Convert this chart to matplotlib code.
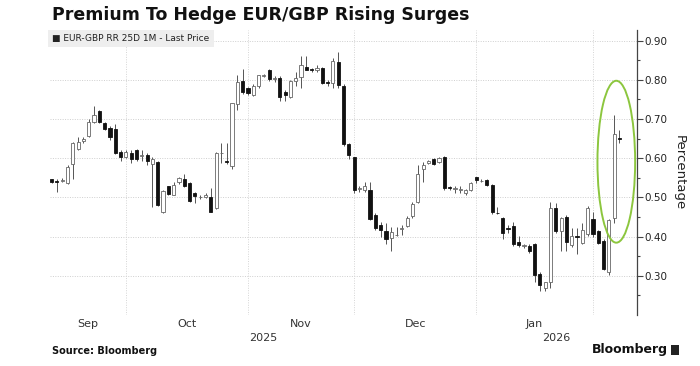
import matplotlib
matplotlib.use("Agg")
import matplotlib.pyplot as plt
import matplotlib.transforms as mtransforms
from matplotlib.patches import Ellipse, Rectangle
import numpy as np
import pandas as pd

# daily candles, EUR-GBP RR 25D 1M
start_date = "2025-09-11"
opens = [0.546, 0.541, 0.541, 0.537, 0.585, 0.623, 0.643, 0.657, 0.693, 0.721,
         0.691, 0.676, 0.674, 0.617, 0.603, 0.614, 0.621, 0.606, 0.607, 0.585,
         0.591, 0.462, 0.528, 0.507, 0.539, 0.547, 0.536, 0.511, 0.500, 0.502,
         0.500, 0.472, 0.612, 0.594, 0.579, 0.738, 0.797, 0.780, 0.762, 0.783,
         0.810, 0.825, 0.803, 0.804, 0.770, 0.757, 0.796, 0.808, 0.832, 0.828,
         0.826, 0.829, 0.795, 0.791, 0.846, 0.783, 0.636, 0.602, 0.521, 0.518,
         0.519, 0.455, 0.430, 0.414, 0.396, 0.403, 0.420, 0.428, 0.452, 0.488,
         0.572, 0.589, 0.597, 0.590, 0.604, 0.526, 0.521, 0.520, 0.510, 0.519,
         0.551, 0.541, 0.545, 0.532, 0.461, 0.447, 0.423, 0.428, 0.387, 0.376,
         0.377, 0.381, 0.305, 0.268, 0.285, 0.472, 0.415, 0.451, 0.378, 0.402,
         0.383, 0.406, 0.444, 0.413, 0.390, 0.309, 0.447, 0.652]
highs = [0.548, 0.548, 0.550, 0.583, 0.642, 0.655, 0.653, 0.700, 0.733, 0.724,
         0.693, 0.682, 0.687, 0.620, 0.620, 0.620, 0.623, 0.620, 0.613, 0.603,
         0.593, 0.520, 0.530, 0.538, 0.553, 0.559, 0.540, 0.514, 0.505, 0.510,
         0.523, 0.616, 0.638, 0.638, 0.742, 0.811, 0.828, 0.782, 0.788, 0.813,
         0.816, 0.828, 0.810, 0.810, 0.775, 0.800, 0.821, 0.860, 0.860, 0.830,
         0.838, 0.832, 0.800, 0.856, 0.872, 0.790, 0.640, 0.604, 0.530, 0.540,
         0.540, 0.460, 0.438, 0.434, 0.425, 0.425, 0.430, 0.453, 0.487, 0.583,
         0.590, 0.595, 0.600, 0.602, 0.606, 0.528, 0.528, 0.528, 0.522, 0.540,
         0.553, 0.547, 0.548, 0.535, 0.476, 0.450, 0.430, 0.438, 0.402, 0.381,
         0.380, 0.383, 0.310, 0.285, 0.489, 0.485, 0.450, 0.455, 0.421, 0.421,
         0.434, 0.477, 0.464, 0.418, 0.395, 0.445, 0.710, 0.672]
lows = [0.537, 0.515, 0.538, 0.535, 0.546, 0.620, 0.640, 0.654, 0.690, 0.690,
        0.672, 0.647, 0.610, 0.592, 0.600, 0.587, 0.593, 0.592, 0.583, 0.476,
        0.478, 0.460, 0.505, 0.505, 0.535, 0.527, 0.488, 0.485, 0.496, 0.498,
        0.462, 0.470, 0.588, 0.585, 0.573, 0.723, 0.765, 0.762, 0.758, 0.778,
        0.806, 0.798, 0.795, 0.745, 0.745, 0.753, 0.783, 0.778, 0.824, 0.820,
        0.820, 0.790, 0.785, 0.780, 0.780, 0.632, 0.598, 0.510, 0.514, 0.515,
        0.443, 0.418, 0.400, 0.380, 0.362, 0.402, 0.405, 0.425, 0.448, 0.485,
        0.538, 0.586, 0.583, 0.587, 0.518, 0.520, 0.512, 0.512, 0.507, 0.516,
        0.536, 0.538, 0.530, 0.458, 0.457, 0.395, 0.410, 0.375, 0.374, 0.372,
        0.358, 0.285, 0.262, 0.262, 0.268, 0.410, 0.362, 0.364, 0.373, 0.356,
        0.380, 0.402, 0.400, 0.380, 0.315, 0.303, 0.434, 0.640]
closes = [0.540, 0.540, 0.545, 0.577, 0.638, 0.642, 0.650, 0.693, 0.710, 0.692,
          0.675, 0.654, 0.613, 0.603, 0.616, 0.597, 0.597, 0.608, 0.594, 0.598,
          0.481, 0.517, 0.508, 0.532, 0.549, 0.530, 0.492, 0.503, 0.501, 0.505,
          0.464, 0.614, 0.614, 0.590, 0.740, 0.794, 0.770, 0.766, 0.783, 0.811,
          0.812, 0.802, 0.805, 0.757, 0.760, 0.797, 0.804, 0.838, 0.826, 0.825,
          0.831, 0.793, 0.791, 0.848, 0.787, 0.637, 0.609, 0.519, 0.523, 0.528,
          0.445, 0.422, 0.418, 0.394, 0.411, 0.404, 0.423, 0.447, 0.483, 0.559,
          0.583, 0.592, 0.586, 0.600, 0.524, 0.524, 0.523, 0.522, 0.519, 0.536,
          0.545, 0.543, 0.532, 0.462, 0.459, 0.408, 0.419, 0.381, 0.378, 0.378,
          0.362, 0.302, 0.277, 0.283, 0.472, 0.413, 0.447, 0.387, 0.402, 0.398,
          0.417, 0.474, 0.406, 0.384, 0.317, 0.443, 0.661, 0.650]

dates = pd.bdate_range(start_date, periods=len(opens))
o = np.array(opens)
h = np.array(highs)
l = np.array(lows)
c = np.array(closes)
x = np.arange(len(o))
up = c >= o

fig = plt.figure(figsize=(7, 3.66), dpi=100)
ax = fig.add_axes([50 / 700, 1 - 315 / 366, (637 - 50) / 700, (315 - 30) / 366])

xmin, xmax = -0.3, 110.3
ax.set_xlim(xmin, xmax)
ax.set_ylim(0.20, 0.927)

# wicks then bodies
ax.vlines(x, l, h, color="#555555", lw=0.7, zorder=2)
body = np.where(np.abs(c - o) < 0.002, 0.002 * np.sign(c - o + 1e-9), c - o)
ax.bar(x[up], body[up], bottom=o[up], width=0.6, color="white",
       edgecolor="#666666", linewidth=0.6, zorder=3)
ax.bar(x[~up], body[~up], bottom=o[~up], width=0.6, color="#111111",
       edgecolor="#111111", linewidth=0.6, zorder=3)

# grid
for v in np.arange(0.2, 0.95, 0.1):
    ax.axhline(v, color="#cfcfcf", lw=0.7, ls=(0, (1, 1.5)), zorder=1)

month_start = [i for i in range(1, len(dates)) if dates[i].month != dates[i - 1].month]
for i in month_start:
    ax.axvline(i, color="#d5d5d5", lw=0.7, ls=(0, (1, 1.5)), zorder=1)

bounds = [xmin] + month_start + [xmax]
ticks, labels = [], []
for a, b in zip(bounds[:-1], bounds[1:]):
    if b - a < 10:
        continue
    ticks.append((a + b) / 2)
    idx = int(np.clip(np.ceil(a), 0, len(dates) - 1))
    labels.append(dates[idx].strftime("%b"))
ax.set_xticks(ticks)
ax.set_xticklabels(labels, fontsize=8, color="#333333")
ax.tick_params(axis="x", length=0, pad=3)

# year labels
year_start = [i for i in month_start if dates[i].year != dates[i - 1].year]
ybounds = [xmin] + year_start + [xmax]
trans = mtransforms.blended_transform_factory(ax.transData, fig.transFigure)
for a, b in zip(ybounds[:-1], ybounds[1:]):
    idx = int(np.clip(np.ceil(a), 0, len(dates) - 1))
    ax.text((a + b) / 2, 1 - 338 / 366, str(dates[idx].year), transform=trans,
            ha="center", va="center", fontsize=8, color="#333333")

# right axis
ax.yaxis.tick_right()
ax.set_yticks(np.arange(0.3, 0.95, 0.1))
ax.set_yticklabels([f"{v:.2f}" for v in np.arange(0.3, 0.95, 0.1)])
ax.set_yticks(np.arange(0.25, 0.95, 0.1), minor=True)
ax.tick_params(axis="y", which="major", length=4, width=0.8, colors="#444444",
               labelsize=7.5, labelcolor="#222222", pad=1.5)
ax.tick_params(axis="y", which="minor", length=2.5, width=0.8, colors="#444444")
for s in ["top", "left", "bottom"]:
    ax.spines[s].set_visible(False)
ax.spines["right"].set_color("#444444")
ax.spines["right"].set_linewidth(0.9)

fig.text(679 / 700, 1 - 173 / 366, "Percentage", rotation=270, ha="center",
         va="center", fontsize=9.5, color="#222222")

# highlight ring around the jump
ax.add_patch(Ellipse((106.4, 0.591), 7.1, 0.413, fill=False,
                     edgecolor="#8cc63e", lw=1.4, zorder=4))

# legend box
ax.text(0.004, 0.985, "\u25A0 EUR-GBP RR 25D 1M - Last Price", transform=ax.transAxes,
        ha="left", va="top", fontsize=6.5, color="#222222", zorder=5,
        bbox=dict(facecolor="#eeeeee", edgecolor="none", pad=3))

fig.text(52 / 700, 1 - 15 / 366, "Premium To Hedge EUR/GBP Rising Surges",
         fontsize=12.5, fontweight="bold", va="center", ha="left", color="#111111")
fig.text(52 / 700, 1 - 351 / 366, "Source: Bloomberg", fontsize=7,
         fontweight="bold", va="center", ha="left", color="#111111")
fig.text(668 / 700, 1 - 350 / 366, "Bloomberg", fontsize=9, fontweight="bold",
         va="center", ha="right", color="#111111")
fig.patches.append(Rectangle((671 / 700, 1 - 355 / 366), 8 / 700, 10 / 366,
                             transform=fig.transFigure, facecolor="#222222",
                             edgecolor="none"))

fig.savefig("out.png", dpi=100)
